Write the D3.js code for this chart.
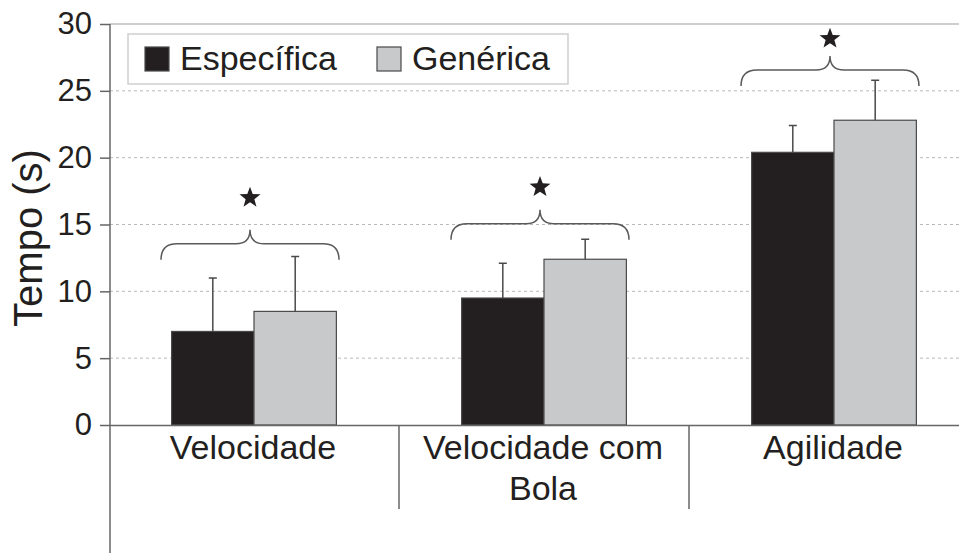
<!DOCTYPE html>
<html>
<head>
<meta charset="utf-8">
<script src="https://cdn.jsdelivr.net/npm/d3@7"></script>
<style>
  body { margin: 0; background: #fff; }
  svg text { font-family: "Liberation Sans", Arial, sans-serif; fill: #231f20; }
</style>
</head>
<body>
<script>
// data
const categories = ["Velocidade", "Velocidade com|Bola", "Agilidade"];
const series = ["Específica", "Genérica"];
const especifica = [7.0, 9.5, 20.4];
const generica = [8.5, 12.4, 22.8];
const especificaSD = [4.0, 2.6, 2.0];
const genericaSD = [4.1, 1.5, 3.0];
const braceLevel = [14.6, 16.1, 27.6];   // where the brace cusp sits
const starLevel = [17.0, 17.8, 28.9];    // significance star
const yTicks = [0, 5, 10, 15, 20, 25, 30];

const width = 959, height = 553;
const colors = {"Específica": "#231f20", "Genérica": "#c8c9cb"};

const svg = d3.select("body").append("svg")
  .attr("width", width)
  .attr("height", height);

const y = d3.scaleLinear().domain([0, 30]).range([425, 24]);
const x0 = d3.scaleBand().domain(categories).range([109, 979]).padding(0);
const x1 = d3.scaleBand().domain(series).range([0, x0.bandwidth()])
  .paddingInner(0).paddingOuter(0.76);

// grid
svg.append("g").selectAll("line")
  .data(yTicks.filter(t => t > 0 && t < 30))
  .enter().append("line")
  .attr("x1", 110).attr("x2", width)
  .attr("y1", d => y(d)).attr("y2", d => y(d))
  .attr("stroke", "#b8b8b8")
  .attr("stroke-width", 1)
  .attr("stroke-dasharray", "3,3");

// top border
svg.append("line")
  .attr("x1", 110).attr("x2", width)
  .attr("y1", y(30)).attr("y2", y(30))
  .attr("stroke", "#bdbdbd").attr("stroke-width", 1.5);

// rows of bars
let rows = categories.map((c, i) => ({
  cat: c,
  vals: [
    {s: series[0], v: especifica[i], sd: especificaSD[i]},
    {s: series[1], v: generica[i], sd: genericaSD[i]}
  ]
}));

let groups = svg.selectAll("g.grp").data(rows)
  .enter().append("g")
  .attr("class", "grp")
  .attr("transform", d => "translate(" + x0(d.cat) + ",0)");

groups.selectAll("rect").data(d => d.vals)
  .enter().append("rect")
  .attr("x", d => x1(d.s))
  .attr("y", d => y(d.v))
  .attr("width", x1.bandwidth())
  .attr("height", d => y(0) - y(d.v))
  .attr("fill", d => colors[d.s])
  .attr("stroke", "#4a4a4a")
  .attr("stroke-width", 1.2);

// error bars (upper only)
groups.selectAll("path.err").data(d => d.vals)
  .enter().append("path")
  .attr("class", "err")
  .attr("d", d => {
    let cx = x1(d.s) + x1.bandwidth() / 2;
    return "M" + cx + "," + y(d.v) + "V" + y(d.v + d.sd) +
      "M" + (cx - 4) + "," + y(d.v + d.sd) + "H" + (cx + 4);
  })
  .attr("fill", "none")
  .attr("stroke", "#4a4a4a")
  .attr("stroke-width", 1.5);

// braces and stars
function bracePath(cx, top) {
  let hw = 89, ym = top + 14, yb = ym + 16;
  let l = cx - hw, r = cx + hw;
  return "M" + l + "," + yb +
    "Q" + l + "," + ym + " " + (l + 16) + "," + ym +
    "L" + (cx - 14) + "," + ym +
    "Q" + cx + "," + ym + " " + cx + "," + top +
    "Q" + cx + "," + ym + " " + (cx + 14) + "," + ym +
    "L" + (r - 16) + "," + ym +
    "Q" + r + "," + ym + " " + r + "," + yb;
}
function starPath(cx, cy, ro, ri) {
  let pts = [];
  for (let k = 0; k < 10; k++) {
    let a = -Math.PI / 2 + k * Math.PI / 5;
    let rr = k % 2 == 0 ? ro : ri;
    pts.push([cx + rr * Math.cos(a), cy + rr * Math.sin(a)]);
  }
  return "M" + pts.map(p => p.join(",")).join("L") + "Z";
}

categories.forEach(function(c, i) {
  let cx = x0(c) + x0.bandwidth() / 2 - 4;
  svg.append("path")
    .attr("d", bracePath(cx, y(braceLevel[i])))
    .attr("fill", "none")
    .attr("stroke", "#5a5a5a")
    .attr("stroke-width", 1.5);
  svg.append("path")
    .attr("d", starPath(cx, y(starLevel[i]), 11, 4.6))
    .attr("fill", "#231f20");
});

// x axis line and category separators
svg.append("line")
  .attr("x1", 110).attr("x2", width)
  .attr("y1", y(0) + 0.5).attr("y2", y(0) + 0.5)
  .attr("stroke", "#666").attr("stroke-width", 1.5);

svg.append("g").selectAll("line")
  .data(categories.slice(1))
  .enter().append("line")
  .attr("x1", d => x0(d)).attr("x2", d => x0(d))
  .attr("y1", y(0)).attr("y2", 509)
  .attr("stroke", "#666").attr("stroke-width", 1.5);

// category labels
let labels = svg.append("g").selectAll("text")
  .data(categories)
  .enter().append("text")
  .attr("x", d => x0(d) + x0.bandwidth() / 2 - 1)
  .attr("y", 459)
  .attr("text-anchor", "middle")
  .style("font-size", "34px");
labels.each(function(d) {
  let parts = d.split("|");
  let t = d3.select(this);
  parts.forEach(function(p, k) {
    t.append("tspan")
      .attr("x", t.attr("x"))
      .attr("dy", k == 0 ? 0 : 41)
      .text(p);
  });
});

// y axis
let yAxis = d3.axisLeft(y).tickValues(yTicks).tickSize(10).tickPadding(8);
let ya = svg.append("g")
  .attr("transform", "translate(110,0)")
  .call(yAxis);
ya.select(".domain").remove();
ya.selectAll(".tick line").attr("stroke", "#666").attr("stroke-width", 1.5);
ya.selectAll(".tick text")
  .style("font-size", "31px")
  .style("font-family", "'Liberation Sans', Arial, sans-serif")
  .attr("fill", "#231f20");

svg.append("line")
  .attr("x1", 110).attr("x2", 110)
  .attr("y1", y(30)).attr("y2", height)
  .attr("stroke", "#666").attr("stroke-width", 1.5);

svg.append("text")
  .attr("transform", "translate(42,238) rotate(-90)")
  .attr("text-anchor", "middle")
  .style("font-size", "40px")
  .text("Tempo (s)");

// legend
let lg = svg.append("g");
lg.append("rect")
  .attr("x", 128).attr("y", 34)
  .attr("width", 440).attr("height", 50)
  .attr("fill", "#fff")
  .attr("stroke", "#cfcfcf").attr("stroke-width", 1.5);
let legendX = [145, 377];
series.forEach(function(s, i) {
  lg.append("rect")
    .attr("x", legendX[i]).attr("y", 47)
    .attr("width", 24).attr("height", 24)
    .attr("fill", colors[s])
    .attr("stroke", "#4a4a4a").attr("stroke-width", 1.2);
  lg.append("text")
    .attr("x", legendX[i] + 35).attr("y", 70)
    .style("font-size", "34px")
    .text(s);
});
</script>
</body>
</html>
